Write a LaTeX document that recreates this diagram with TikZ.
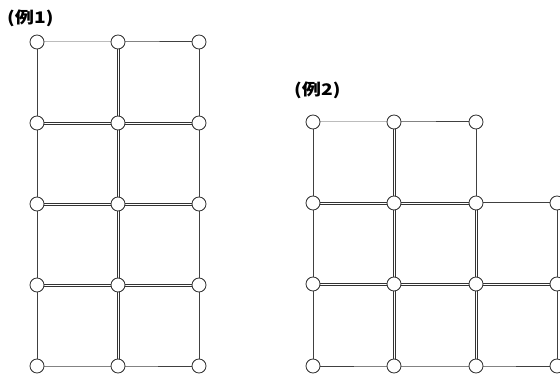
\documentclass[tikz,border=0pt]{standalone}
\usepackage{graphicx}
\usepackage{fontspec}
\newfontfamily\cjk{Noto Sans CJK JP}
\newcommand{\reilabel}[1]{\scalebox{1.2}[1]{#1}}
\newcommand{\dblh}[2]{%
  \draw[dline] ([yshift=1.1pt]#1.center) -- ([yshift=1.1pt]#2.center);
  \draw[dline] ([yshift=-1.1pt]#1.center) -- ([yshift=-1.1pt]#2.center);}
\newcommand{\dblv}[2]{%
  \draw[dline] ([xshift=1.1pt]#1.center) -- ([xshift=1.1pt]#2.center);
  \draw[dline] ([xshift=-1.1pt]#1.center) -- ([xshift=-1.1pt]#2.center);}
\begin{document}
\begin{tikzpicture}[x=1pt,y=-1pt,
  edge/.style={draw=black!75,line width=1pt},
  dline/.style={draw=black!80,line width=0.75pt},
  joint/.style={circle,draw=black!80,fill=white,line width=0.85pt,minimum size=14pt,inner sep=0pt},
  lbl/.style={font=\cjk\bfseries\fontsize{16}{18}\selectfont,inner sep=0pt,anchor=west}]
\useasboundingbox (0,0) rectangle (560,374);
% Example 1
\node[lbl] (t1) at (7,18) {\reilabel{(例1)}};
\foreach \i/\x in {0/37,1/118,2/199}{
  \foreach \j/\y in {0/42,1/123,2/204,3/285,4/366}{
    \coordinate (a\i\j) at (\x,\y);
  }
}
% single edges
\draw[edge] (a00) -- (a10) -- (a20);
\draw[edge] (a04) -- (a14) -- (a24);
\draw[edge] (a00) -- (a04);
\draw[edge] (a20) -- (a24);
% double edges
\foreach \j in {1,2,3}{
  \dblh{a0\j}{a1\j}
  \dblh{a1\j}{a2\j}
}
\foreach \j/\k in {0/1,1/2,2/3,3/4}{
  \dblv{a1\j}{a1\k}
}
\foreach \i in {0,1,2}{
  \foreach \j in {0,...,4}{
    \node[joint] (na\i\j) at (a\i\j) {};
  }
}
% Example 2
\node[lbl] (t2) at (294,90) {\reilabel{(例2)}};
\foreach \i/\x in {0/313,1/394,2/476,3/557}{
  \foreach \j/\y in {0/122,1/203,2/284,3/366}{
    \coordinate (b\i\j) at (\x,\y);
  }
}
\draw[edge] (b00) -- (b10) -- (b20);
\draw[edge] (b21) -- (b31);
\draw[edge] (b03) -- (b13) -- (b23) -- (b33);
\draw[edge] (b00) -- (b03);
\draw[edge] (b31) -- (b33);
\draw[edge] (b20) -- (b21);
\dblh{b01}{b11}
\dblh{b11}{b21}
\dblh{b02}{b12}
\dblh{b12}{b22}
\dblh{b22}{b32}
\dblv{b10}{b11}
\dblv{b11}{b12}
\dblv{b12}{b13}
\dblv{b21}{b22}
\dblv{b22}{b23}
\foreach \p in {00,10,20,01,11,21,31,02,12,22,32,03,13,23,33}{
  \node[joint] (nb\p) at (b\p) {};
}
\end{tikzpicture}
\end{document}
